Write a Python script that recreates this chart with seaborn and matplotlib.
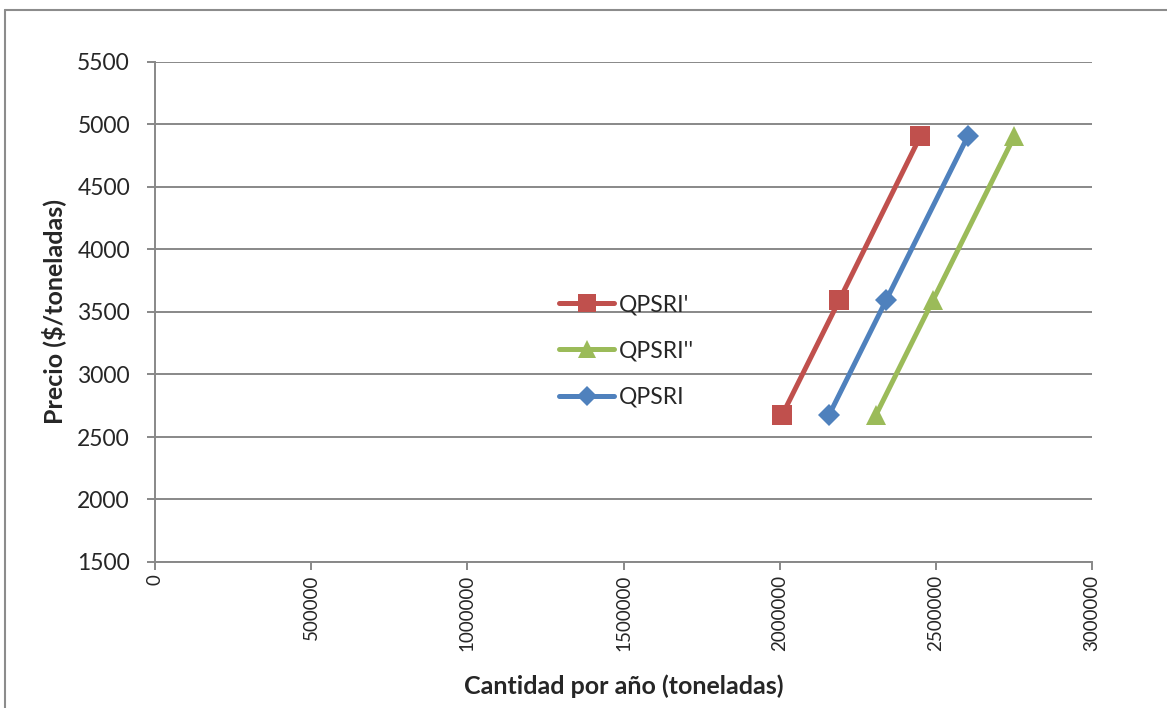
import matplotlib
matplotlib.use("Agg")
import matplotlib.pyplot as plt
import matplotlib.lines as mlines
import seaborn as sns
import pandas as pd

# Supply series: quantity per year (tonnes) at each price level ($/tonne)
precio = [2675, 3595, 4904]
qpsri_prima = [2008000, 2191000, 2450000]
qpsri_doble = [2308000, 2491000, 2751000]
qpsri = [2158000, 2341000, 2602000]

series = ["QPSRI'", "QPSRI''", "QPSRI"]
colores = {"QPSRI'": "#C0504D", "QPSRI''": "#9BBB59", "QPSRI": "#4F81BD"}
marcadores = {"QPSRI'": "s", "QPSRI''": "^", "QPSRI": "D"}
tam_marcador = {"QPSRI'": 14, "QPSRI''": 14, "QPSRI": 11.5}

df = pd.concat([
    pd.DataFrame({"cantidad": qpsri_prima, "precio": precio, "serie": "QPSRI'"}),
    pd.DataFrame({"cantidad": qpsri_doble, "precio": precio, "serie": "QPSRI''"}),
    pd.DataFrame({"cantidad": qpsri, "precio": precio, "serie": "QPSRI"}),
], ignore_index=True)

sns.set_style("white")
plt.rcParams["font.family"] = ["Lato", "DejaVu Sans"]

fig = plt.figure(figsize=(11.67, 7.08), dpi=100)
ax = fig.add_axes([155 / 1167, 1 - 562 / 708, (1092 - 155) / 1167, (562 - 62) / 708])

grid_color = "#888888"
for y in range(1500, 5501, 500):
    ax.axhline(y, color=grid_color, lw=1.4, zorder=0)

for s in series:
    sub = df[df["serie"] == s]
    sns.lineplot(data=sub, x="cantidad", y="precio", ax=ax, color=colores[s],
                 lw=3.6, marker=marcadores[s], markersize=tam_marcador[s],
                 markeredgewidth=0, sort=False, legend=False, zorder=3)

ax.set_xlim(0, 3000000)
ax.set_ylim(1500, 5500)
ax.set_xticks(range(0, 3000001, 500000))
ax.set_yticks(range(1500, 5501, 500))
ax.set_xticklabels([str(v) for v in range(0, 3000001, 500000)], rotation=90,
                   fontsize=13.5)
ax.set_yticklabels([str(v) for v in range(1500, 5501, 500)], fontsize=16.5)
ax.tick_params(axis="both", direction="out", length=6, width=1.4,
               color=grid_color, left=True, bottom=True)
ax.tick_params(axis="y", pad=12)
ax.tick_params(axis="x", pad=3)

for side in ["top", "right"]:
    ax.spines[side].set_visible(False)
for side in ["left", "bottom"]:
    ax.spines[side].set_color(grid_color)
    ax.spines[side].set_linewidth(1.4)

ax.set_xlabel("Cantidad por año (toneladas)", fontsize=18, fontweight="bold",
              labelpad=17)
ax.set_ylabel("Precio ($/toneladas)", fontsize=18, fontweight="bold", labelpad=8)

handles = [mlines.Line2D([], [], color=colores[s], lw=3.6, marker=marcadores[s],
                         markersize=tam_marcador[s] - 1, markeredgewidth=0)
           for s in series]
leg = ax.legend(handles, series, loc="center left",
                bbox_to_anchor=((548 - 155) / 937, (562 - 351) / 500),
                frameon=False, fontsize=16.5, handlelength=2.4,
                handletextpad=0.2, labelspacing=1.1, borderpad=0)

# Outer frame of the chart area
fig.add_artist(plt.Line2D([4.5 / 1167, 4.5 / 1167], [0, 1 - 10 / 708],
                          transform=fig.transFigure, color="#8c8c8c", lw=1.5))
fig.add_artist(plt.Line2D([4.5 / 1167, 1], [1 - 10 / 708, 1 - 10 / 708],
                          transform=fig.transFigure, color="#8c8c8c", lw=1.5))

fig.savefig("out.png", dpi=100)
